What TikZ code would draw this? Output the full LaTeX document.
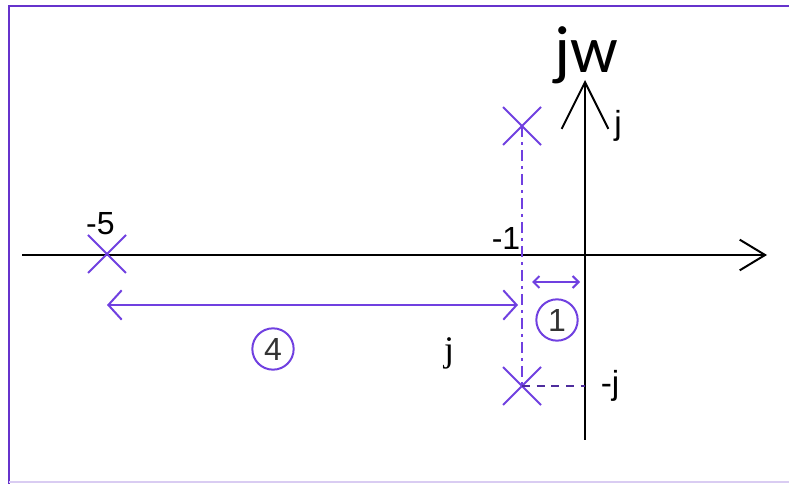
\documentclass[tikz,border=0pt]{standalone}
\usepackage{fontspec}
\setmainfont{Liberation Sans}
\newfontfamily\jwfont{Carlito}
\newfontfamily\serjfont{Liberation Serif}
\usetikzlibrary{arrows.meta,shapes.misc,positioning}

\definecolor{polecol}{RGB}{112,64,224}
\definecolor{framecol}{RGB}{102,51,204}

\tikzset{
  pole/.style={cross out, draw=polecol, line width=1.5pt, minimum size=27pt, inner sep=0pt},
  axis/.style={line width=1.5pt, black},
  lbl/.style={font=\fontsize{24}{26}\selectfont, inner sep=1pt},
  jlbl/.style={font=\fontsize{25}{28}\selectfont, inner sep=1pt},
  circnum/.style={circle, draw=polecol, line width=1.5pt, minimum size=31pt, inner sep=0pt,
    text=black!80, font=\fontsize{24}{26}\selectfont},
  dist/.style={polecol, line width=1.5pt},
}

\begin{document}
\begin{tikzpicture}[x=0.75pt, y=-0.75pt] % 1 unit = 1 px
    \useasboundingbox (0,0) rectangle (789,484);

    % --- frame ---
    \draw[framecol, line width=1.5pt] (9,484) -- (9,6) -- (789,6);
    \draw[framecol!25, line width=1.5pt] (9,482) -- (789,482);

    % --- axes ---
    \coordinate (xl) at (22,255);
    \coordinate (xr) at (767,255);
    \coordinate (yb) at (585,440);
    \coordinate (yt) at (585,80);
    % real axis
    \draw[axis, -{Straight Barb[length=19pt, width=23pt]}] (xl) -- (xr);
    % imaginary axis
    \draw[axis, -{Straight Barb[length=35pt, width=35pt]}] (yb) -- (yt);
    \node[font=\fontsize{50}{54}\jwfont, anchor=base, inner sep=0pt] (jw) at (586,73) {jw};
    \node[jlbl] (jtop) at (618,126) {j};

    % --- poles ---
    \node[pole] (p5) at (107,254) {};
    \node[pole] (p1u) at (522,126) {};
    \node[pole] (p1d) at (522,386) {};
    \node[lbl, above=-1pt of p5, xshift=-5pt] (l5) {-5};
    \node[lbl] (l1) at (506,238) {-1};
    \node[jlbl] (ljm) at (610,386) {-j};

    % --- guide lines ---
    \draw[polecol, line width=1.5pt, dash pattern=on 8pt off 4pt on 2pt off 4pt] (p1u.center) -- (p1d.center);
    \draw[polecol!70!black, line width=1.2pt, dash pattern=on 6pt off 5pt] (p1d.center) -- (p1d.center -| yb);

    % --- distances ---
    \coordinate (d4l) at (107,305);
    \coordinate (d4r) at (518,305);
    \draw[dist, {Straight Barb[length=10pt, width=22pt]}-{Straight Barb[length=10pt, width=22pt]}] (d4l) -- (d4r);
    \node[circnum] (c4) at (273,349) {4};
    \coordinate (d1l) at (532,282);
    \coordinate (d1r) at (580,282);
    \draw[dist, {Straight Barb[length=4.5pt, width=9pt]}-{Straight Barb[length=4.5pt, width=9pt]}] (d1l) -- (d1r);
    \node[circnum] (c1) at (557,320) {1};

    \node[font=\fontsize{27}{30}\serjfont] (jmid) at (449,353) {j};

\end{tikzpicture}
\end{document}
